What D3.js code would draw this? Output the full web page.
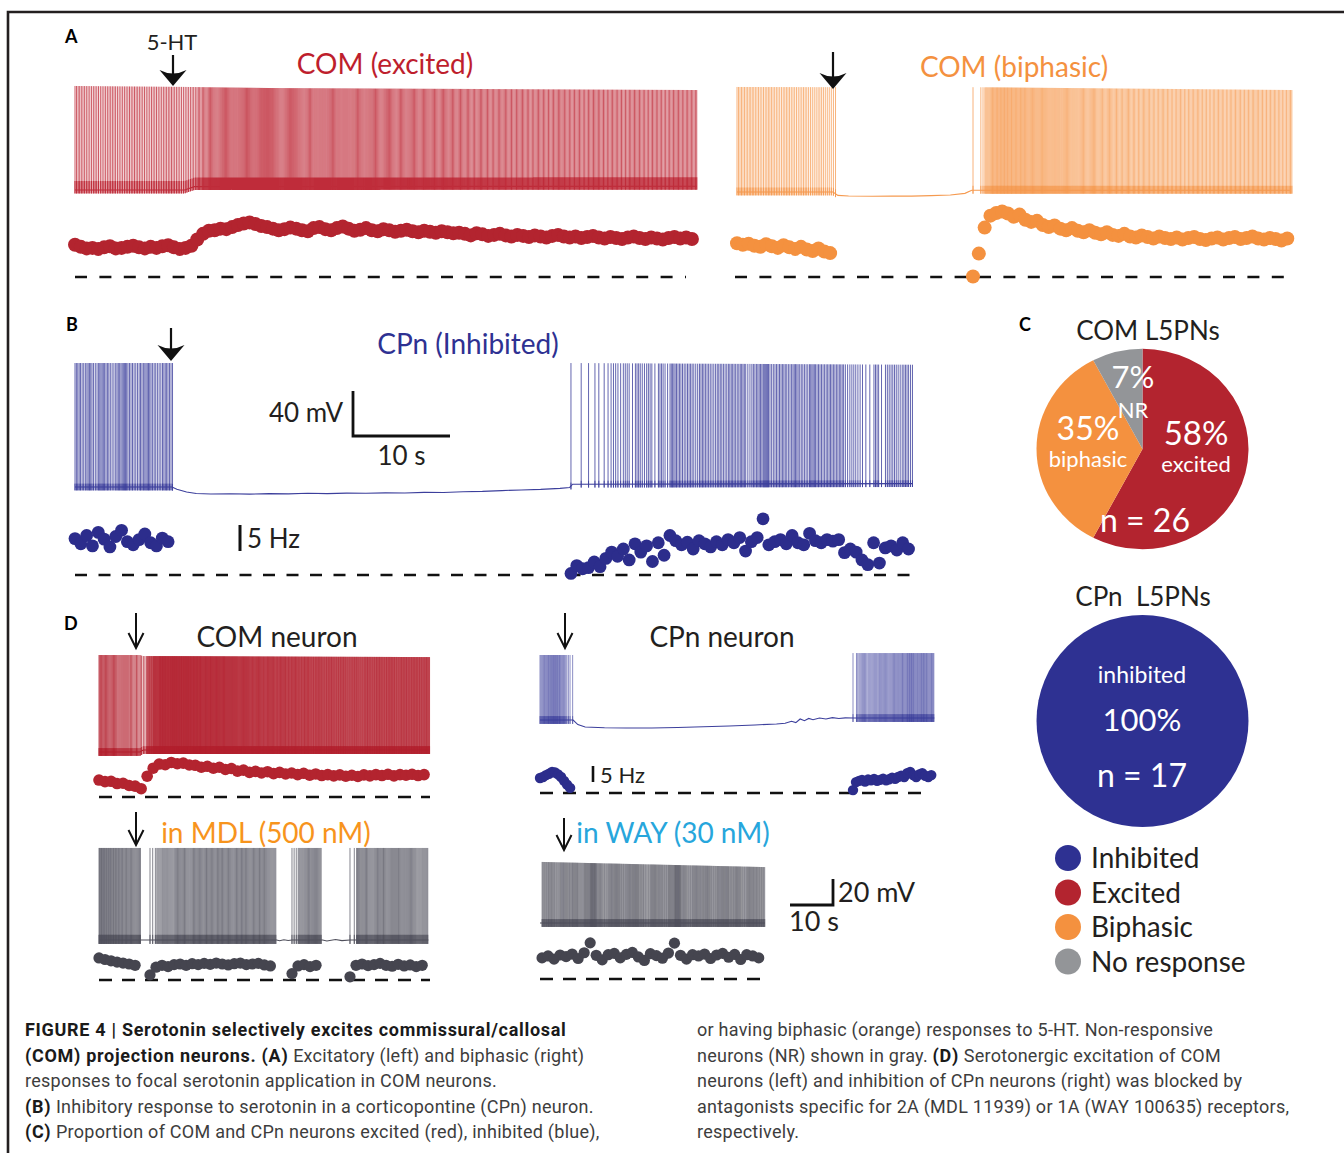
<!DOCTYPE html>
<html><head><meta charset="utf-8">
<script src="https://cdn.jsdelivr.net/npm/d3@7"></script>
<style>
body{margin:0;background:#fff}
svg{display:block}
text{font-family:Lato,'Open Sans',sans-serif;white-space:pre}
.cap{font-family:Roboto,'Liberation Sans',sans-serif;font-size:18px}
</style>
</head><body>
<svg id="fig" width="1344" height="1153"></svg>
<script>
// ================= DATA =================
// Panel C pie charts
const comPieCategories = ["Excited", "Biphasic", "No response"];
const comPieCounts = [15, 9, 2];
const comPieLabels = [["58%", "excited"], ["35%", "biphasic"], ["7%", "NR"]];
const cpnPieCategories = ["Inhibited"];
const cpnPieCounts = [17];
const legendCategories = ["Inhibited", "Excited", "Biphasic", "No response"];

// Firing rate samples (Hz). Each segment: start time (s), step (s), values.
// Panel A – COM (excited), step 0.6 s
const aExcitedRate = [6.2,5.8,5.5,5.6,5.4,5.7,5.9,5.5,5.6,5.8,6.0,5.7,5.5,5.8,5.6,5.9,6.1,5.7,5.4,
  5.6,6.0,7.2,8.3,8.9,
  9.0,9.3,9.2,9.6,10.0,10.3,10.5,10.2,9.8,
  9.6,9.3,9.0,9.2,9.5,9.3,9.0,8.8,9.4,9.6,9.2,9.0,9.4,9.7,9.3,8.9,9.1,9.4,9.0,8.8,9.2,9.0,8.7,8.9,9.1,8.8,8.6,8.9,8.7,8.5,8.8,8.6,8.4,
  8.5,8.3,8.0,8.4,8.2,7.9,8.1,8.3,8.0,7.8,8.1,7.9,7.7,8.0,7.8,7.6,7.9,8.1,7.8,7.6,7.8,7.5,7.7,7.9,7.6,7.4,7.7,7.5,7.3,7.6,7.8,7.5,7.3,7.6,7.4,7.2,7.5,7.7,7.4,7.6,7.3];
const aExcitedBaseline = [[0,-70],[11.3,-70],[12.3,-67],[64.1,-66.7]];
const aExcitedPeak = [[0,22.3],[11,21.5],[20,20.5],[64.1,18.7]];

// Panel A – COM (biphasic), step 0.6 s
const aBiphasicRatePre = [6.5,6.2,6.4,6.0,5.8,6.3,5.9,5.6,6.1,5.7,5.4,5.8,5.3,5.0,5.5,4.9,4.6];
const aBiphasicRatePost = [0.1,4.5,9.5,11.8,12.3,12.6,12.2,11.6,12.0,11.0,10.6,10.8,10.0,9.6,9.9,9.3,9.0,9.4,8.9,8.6,9.0,8.5,8.2,8.6,8.1,7.9,8.3,7.8,7.6,8.0,7.7,7.4,7.8,7.5,7.3,7.6,7.2,7.5,7.7,7.3,7.1,7.4,7.6,7.2,7.5,7.7,7.3,7.5,7.8,7.4,7.2,7.5,7.3,7.0,7.4];
const aBiphasicStarts = [0, 24.33];
const aBiphasicBaseline = [[0,-70],[9.9,-70],[10.4,-73],[11.5,-73.6],[14,-73.8],[16,-73.5],[18,-73.7],[20,-73.2],[22,-72.6],[23.5,-71.2],[24.2,-68.5],[57,-68.5]];
const aBiphasicPeak = [[0,23.2],[10,23],[24.3,23],[57,20.5]];

// Panel B – CPn (inhibited), step 0.6 s
const bCpnRatePre = [7.0,6.0,7.6,5.6,8.2,6.9,5.4,7.4,8.6,6.4,5.8,6.8,7.9,6.2,5.6,7.1,6.4];
const bCpnRatePost = [0.3,1.8,1.2,1.4,2.5,1.6,3.2,4.4,3.6,5.0,2.9,6.0,4.4,5.6,2.6,6.2,3.8,7.6,6.6,5.8,6.3,5.0,6.6,6.0,5.4,6.4,5.8,6.8,6.2,7.2,4.6,6.4,7.2,10.8,5.8,6.4,6.8,6.0,7.6,6.2,5.8,8.0,6.6,6.2,6.8,6.5,6.8,4.3,5.0,4.4,2.9,2.0,6.2,2.3,5.2,5.6,4.8,6.2,5.0];
const bCpnStarts = [0, 51.13];
const bCpnBaseline = [[0,-70],[10,-70],[10.5,-72],[11.5,-74.5],[12.5,-75.8],[14,-76.2],[16,-76],[18,-76.3],[20,-75.9],[22,-76.1],[24,-75.6],[26,-75.9],[28,-75.4],[30,-75.6],[32,-75.2],[34,-75.3],[36,-74.8],[38,-74.9],[40,-74.2],[42,-73.9],[44,-73.2],[46,-72.6],[48,-72.1],[50,-71.2],[51,-70.4],[51.3,-67.5],[86.3,-67]];
const bCpnPeak = [[0,40],[10,40],[51,40],[86.3,38.5]];

// Panel D – COM neuron, step 1.4 s
const dComRate = [5.3,4.8,4.9,4.2,4.3,3.6,3.4,2.6,6.5,9.0,10.3,10.1,10.8,10.4,10.6,10.0,9.9,9.3,9.6,9.0,9.3,8.6,8.9,8.1,8.4,7.7,8.0,7.5,7.9,7.3,7.7,7.2,7.5,7.0,7.4,6.8,7.2,6.7,7.0,6.6,6.9,6.5,6.8,6.4,6.9,6.6,7.0,6.7,7.1,6.6,7.0,6.8,7.1,6.7,7.0];
const dComBaseline = [[0,-70],[9.5,-70],[10.3,-68.5],[76.7,-68.5]];
const dComPeak = [[0,4.6],[9.5,4.6],[10.3,3.8],[76.7,3]];

// Panel D – COM in MDL (500 nM), step 1.4 s
const dMdlRate1 = [6.9,6.4,6.0,5.6,5.3,5.0,4.6];
const dMdlRate2 = [1.6,4.0,4.6,4.2,4.8,5.0,4.6,5.1,4.8,5.2,4.9,5.3,5.0,4.7,5.1,5.3,4.8,5.0,5.2,4.7,4.4];
const dMdlRate3 = [2.0,4.4,4.8,4.2,4.6];
const dMdlRate4 = [1.0,4.6,5.0,4.5,4.8,5.2,4.6,4.3,4.9,4.4,4.7,4.2,4.6];
const dMdlStarts = [0, 11.86, 44.88, 58.37];
const dMdlBaseline = [[0,-70],[41.3,-70],[42,-70.6],[43,-69.8],[44,-70.4],[44.9,-70],[52,-70],[53,-70.8],[55,-69.6],[56.5,-70.5],[58.4,-70],[76.6,-70]];
const dMdlPeak = [[0,0.8],[76.6,0.8]];

// Panel D – CPn neuron, step 0.7 s
const dCpnRatePre = [4.7,5.0,5.6,6.0,6.6,6.4,5.8,5.0,3.8,2.6,1.6];
const dCpnRatePost = [0.9,3.4,3.8,4.1,3.6,4.2,4.0,4.4,3.8,4.1,4.5,4.0,4.3,4.8,4.4,5.0,5.4,5.0,6.2,6.6,5.6,5.0,5.8,6.2,5.4,5.0,5.6];
const dCpnStarts = [0, 72.79];
const dCpnBaseline = [[0,-70],[7.7,-70],[8.8,-73.5],[10.5,-75.4],[15,-76],[20,-76.2],[26,-76.2],[32,-75.8],[38,-75.2],[44,-74.6],[50,-73.8],[55,-73.1],[57,-72.5],[58.5,-71],[59.5,-72],[60.5,-69.2],[61.5,-70.5],[62.5,-68.8],[63.5,-69.8],[65,-68.5],[66.5,-69.2],[68,-68.2],[69.5,-68.9],[71,-68.4],[72.8,-68.5],[91.7,-68.5]];
const dCpnPeak = [[0,-20],[7.7,-20],[72.8,-18.5],[91.7,-18.5]];

// Panel D – CPn in WAY (30 nM), step 1.4 s
const dWayRate = [6.6,7.2,6.2,7.5,7.0,7.8,6.4,8.2,11.3,7.4,6.0,7.6,8.0,6.6,7.7,8.3,6.9,5.8,7.9,7.3,6.5,8.1,11.2,7.4,6.2,7.6,7.2,7.8,6.4,7.5,8.0,6.8,7.7,6.1,7.6,7.2,6.6];
const dWayBaseline = [[0,-70],[52.3,-70]];
const dWayPeak = [[0,-23],[52.3,-27]];

// Scale bars
const scaleBarB = {sec: 10, mV: 40, hz: 5};
const scaleBarD = {sec: 10, mV: 20, hz: 5};

// Caption
const captionLeft = [
  [["FIGURE 4 | Serotonin selectively excites commissural/callosal", 1]],
  [["(COM) projection neurons. (A)", 1], [" Excitatory (left) and biphasic (right)", 0]],
  [["responses to focal serotonin application in COM neurons.", 0]],
  [["(B)", 1], [" Inhibitory response to serotonin in a corticopontine (CPn) neuron.", 0]],
  [["(C)", 1], [" Proportion of COM and CPn neurons excited (red), inhibited (blue),", 0]]
];
const captionRight = [
  [["or having biphasic (orange) responses to 5-HT. Non-responsive", 0]],
  [["neurons (NR) shown in gray. ", 0], ["(D)", 1], [" Serotonergic excitation of COM", 0]],
  [["neurons (left) and inhibition of CPn neurons (right) was blocked by", 0]],
  [["antagonists specific for 2A (MDL 11939) or 1A (WAY 100635) receptors,", 0]],
  [["respectively.", 0]]
];

// ================= COLOURS =================
const C = {
  red: "#b3242f", redSpike: "#bf2c3a", orange: "#f4913f", orangeSpike: "#f59a50",
  blue: "#2e3192", blueSpike: "#3c3f9c", gray: "#939598", dark: "#45454f", darkSpike: "#50505c",
  ink: "#231f20", cyan: "#27a6dc", mdl: "#f7941d"
};

// ================= LAYOUT / TRACES =================
const traces = [
  {x0:75, pps:9.7, end:64.1, yRest:190, gain:1.127, zero:277, pph:5.2, dashX1:686, dash:"12,12.4", r:7, band:8, bw:1.3,
   spike:C.redSpike, sw:0.8, dot:C.red, segs:[[0,0.6,aExcitedRate]], base:aExcitedBaseline, peak:aExcitedPeak},
  {x0:737, pps:9.7, end:57, yRest:192, gain:1.127, zero:277, pph:5.2, dashX1:1292, dash:"12,12.4", r:7, band:4, bw:1.2,
   spike:C.orangeSpike, sw:0.75, dot:C.orange, segs:[[aBiphasicStarts[0],0.6,aBiphasicRatePre],[aBiphasicStarts[1],0.6,aBiphasicRatePost]], base:aBiphasicBaseline, peak:aBiphasicPeak, dashX0:735},
  {x0:75, pps:9.7, end:86.3, yRest:487, gain:1.127, zero:575, pph:5.2, dashX1:910, dash:"12,11.5", r:6.4, band:3, bw:1.1,
   spike:C.blueSpike, sw:0.8, dot:"#2c2d8c", segs:[[bCpnStarts[0],0.6,bCpnRatePre],[bCpnStarts[1],0.6,bCpnRatePost]], base:bCpnBaseline, peak:bCpnPeak},
  {x0:99, pps:4.3, end:76.7, yRest:752, gain:1.3, zero:797, pph:3.2, dashX1:430, dash:"13,10", r:5.8, band:3, bw:1.1,
   spike:"#b3202d", sw:0.8, dot:C.red, segs:[[0,1.4,dComRate]], base:dComBaseline, peak:dComPeak},
  {x0:99, pps:4.3, end:76.6, yRest:940, gain:1.3, zero:980, pph:3.2, dashX1:430, dash:"13,10", r:5.6, band:4, bw:1.25,
   spike:C.darkSpike, sw:0.7, dot:C.dark, segs:[[dMdlStarts[0],1.4,dMdlRate1],[dMdlStarts[1],1.4,dMdlRate2],[dMdlStarts[2],1.4,dMdlRate3],[dMdlStarts[3],1.4,dMdlRate4]], base:dMdlBaseline, peak:dMdlPeak},
  {x0:540, pps:4.3, end:91.7, yRest:720, gain:1.3, zero:793, pph:3.2, dashX1:928, dash:"13,10", r:5.2, band:3, bw:1.1,
   spike:C.blueSpike, sw:0.6, dot:"#2c2d8c", segs:[[dCpnStarts[0],0.7,dCpnRatePre],[dCpnStarts[1],0.7,dCpnRatePost]], base:dCpnBaseline, peak:dCpnPeak},
  {x0:540, pps:4.3, end:52.3, yRest:923, gain:1.3, zero:979, pph:3.2, dashX1:766, dash:"13,10", r:5.6, band:3, bw:1.2,
   spike:C.darkSpike, sw:0.55, dot:C.dark, segs:[[0.47,1.4,dWayRate]], base:dWayBaseline, peak:dWayPeak}
];

const svg = d3.select("#fig");

// frame
svg.append("path").attr("d","M8,1153V12H1344").attr("fill","none").attr("stroke",C.ink).attr("stroke-width",2.6);

function spikeTimes(segs){
  const out = [];
  segs.forEach(([t0, dt, v]) => {
    out.push(t0);
    let need = 1;
    v.forEach((hz, i) => {
      let t = t0 + i*dt, rem = dt;
      while (hz > 0 && hz*rem >= need) { const s = need/hz; t += s; rem -= s; out.push(t); need = 1; }
      need -= hz*rem;
    });
  });
  return out;
}

traces.forEach(tr => {
  tr.x = d3.scaleLinear().domain([0, tr.end]).range([tr.x0, tr.x0 + tr.end*tr.pps]);
  tr.y = d3.scaleLinear().domain([-70, 40]).range([tr.yRest, tr.yRest - 110*tr.gain]);
  tr.rate = d3.scaleLinear().domain([0, 10]).range([tr.zero, tr.zero - 10*tr.pph]);
  const bs = d3.scaleLinear().domain(tr.base.map(d=>d[0])).range(tr.base.map(d=>d[1]));
  const ps = d3.scaleLinear().domain(tr.peak.map(d=>d[0])).range(tr.peak.map(d=>d[1]));
  const g = svg.append("g");
  // membrane baseline
  g.append("path").attr("d", d3.line().x(d=>tr.x(d[0])).y(d=>tr.y(d[1]))(tr.base))
    .attr("fill","none").attr("stroke",tr.spike).attr("stroke-width",1.1);
  // spikes
  const sp = spikeTimes(tr.segs);
  const d = sp.map(t => `M${tr.x(t).toFixed(2)},${tr.y(bs(t)-3).toFixed(2)}V${tr.y(ps(t)).toFixed(2)}`).join("");
  g.append("path").attr("d", d).attr("fill","none").attr("stroke",tr.spike).attr("stroke-width",tr.sw);
  // after-hyperpolarisation foot of each spike
  const d2 = sp.map(t => `M${tr.x(t).toFixed(2)},${tr.y(bs(t)-3).toFixed(2)}V${tr.y(bs(t)+tr.band).toFixed(2)}`).join("");
  g.append("path").attr("d", d2).attr("fill","none").attr("stroke",tr.spike).attr("stroke-width",tr.sw*tr.bw);
  // zero-rate dashed line
  g.append("line").attr("x1", tr.dashX0 || tr.x0).attr("x2", tr.dashX1)
    .attr("y1", tr.rate(0)).attr("y2", tr.rate(0))
    .attr("stroke","#111").attr("stroke-width",2.5).attr("stroke-dasharray",tr.dash);
  // rate dots
  const pts = [];
  tr.segs.forEach(([t0, dt, v]) => v.forEach((hz,i) => pts.push([t0 + i*dt, hz])));
  g.selectAll("circle").data(pts).join("circle")
    .attr("cx", p=>tr.x(p[0])).attr("cy", p=>tr.rate(p[1])).attr("r", tr.r).attr("fill", tr.dot);
});

// ---- text helpers
function txt(x, y, s, size, fill, anchor, extra){
  const t = svg.append("text").attr("x",x).attr("y",y).attr("font-size",size)
    .attr("fill",fill||C.ink).attr("text-anchor",anchor||"start").text(s);
  if (extra) extra(t);
  return t;
}
const bold = t => t.attr("font-family","'Liberation Sans',Arial,sans-serif").attr("font-weight","bold");

// panel letters
txt(65,43,"A",18,"#000","start",bold);
txt(66,331,"B",18,"#000","start",bold);
txt(1019,331,"C",18,"#000","start",bold);
txt(64,630,"D",18,"#000","start",bold);

// arrows
function bigArrow(x, y0, y1){
  svg.append("line").attr("x1",x).attr("x2",x).attr("y1",y0).attr("y2",y1-6).attr("stroke","#111").attr("stroke-width",2.2);
  svg.append("path").attr("d",`M${x},${y1}L${x-13.5},${y1-16}Q${x},${y1-9} ${x+13.5},${y1-16}Z`).attr("fill","#111");
}
function thinArrow(x, y0, y1){
  svg.append("line").attr("x1",x).attr("x2",x).attr("y1",y0).attr("y2",y1).attr("stroke","#111").attr("stroke-width",2);
  svg.append("path").attr("d",`M${x-7.5},${y1-15}L${x},${y1}L${x+7.5},${y1-15}`).attr("fill","none").attr("stroke","#111").attr("stroke-width",2);
}
bigArrow(173, 55, 86);
bigArrow(833, 52, 89);
bigArrow(171, 328, 361);
thinArrow(136, 613, 648);
thinArrow(136, 812, 845);
thinArrow(565, 613, 648);
thinArrow(564, 818, 850);

// titles
txt(172,50,"5-HT",22,C.ink,"middle");
txt(385,74,"COM (excited)",28,"#be1e2d","middle");
txt(1014,77,"COM (biphasic)",28,C.orange,"middle");
txt(468,354,"CPn (Inhibited)",28,C.blue,"middle");
txt(277,647,"COM neuron",28,C.ink,"middle");
txt(722,647,"CPn neuron",28,C.ink,"middle");
txt(266,843,"in MDL (500 nM)",28,C.mdl,"middle");
txt(673,843,"in WAY (30 nM)",28,C.cyan,"middle");

// scale bars B (using trace B scales)
{
  const tb = traces[2];
  const len = tb.x(scaleBarB.sec) - tb.x(0);
  const h = tb.y(-70) - tb.y(-70 + scaleBarB.mV);
  svg.append("path").attr("d",`M353,${436-h}V436H${353+len}`).attr("fill","none").attr("stroke","#111").attr("stroke-width",2.8);
  txt(343,422,"40 mV",26,C.ink,"end");
  txt(353+len/2,465,"10 s",26,C.ink,"middle");
  const hz = tb.rate(0) - tb.rate(scaleBarB.hz);
  svg.append("line").attr("x1",240).attr("x2",240).attr("y1",551-hz).attr("y2",551).attr("stroke","#111").attr("stroke-width",3);
  txt(247,548,"5 Hz",26,C.ink,"start");
}
// scale bars D
{
  const td = traces[6];
  const len = td.x(scaleBarD.sec) - td.x(0);
  const h = td.y(-70) - td.y(-70 + scaleBarD.mV);
  svg.append("path").attr("d",`M${833-len},905H833V${905-h}`).attr("fill","none").attr("stroke","#111").attr("stroke-width",2.8);
  txt(838,902,"20 mV",27,C.ink,"start");
  txt(789,931,"10 s",27,C.ink,"start");
  const tc = traces[5];
  const hz = tc.rate(0) - tc.rate(scaleBarD.hz);
  svg.append("line").attr("x1",593).attr("x2",593).attr("y1",782-hz).attr("y2",782).attr("stroke","#111").attr("stroke-width",2.6);
  txt(600,783,"5 Hz",22,C.ink,"start");
}

// ---- Panel C pies
const pieColors = {"Excited":C.red, "Biphasic":C.orange, "No response":C.gray, "Inhibited":C.blue};
const pieR = 106;
const arc = d3.arc().innerRadius(0).outerRadius(pieR);
const comArcs = d3.pie().sort(null)(comPieCounts);
const gc = svg.append("g").attr("transform","translate(1142.5,449) scale(1,0.945)");
gc.selectAll("path").data(comArcs).join("path").attr("d",arc)
  .attr("fill",(d,i)=>pieColors[comPieCategories[i]]);
txt(1148,340,"COM L5PNs",26,C.ink,"middle");
// label positions: x, baseline of value, value size, baseline of word
const comLabelPos = [[1196,445,33,472],[1088,440,32,467],[1133,388,31,418]];
comPieLabels.forEach((lab,i)=>{
  const [x,y,sz,y2] = comLabelPos[i];
  txt(x,y,lab[0],sz,"#fff","middle");
  txt(x,y2,lab[1],22,"#fff","middle");
});
txt(1145,532,"n = "+d3.sum(comPieCounts),32,"#fff","middle");

const cpnArcs = d3.pie().sort(null)(cpnPieCounts);
const gp = svg.append("g").attr("transform","translate(1142.5,721)");
gp.selectAll("path").data(cpnArcs).join("path").attr("d",arc)
  .attr("fill",(d,i)=>pieColors[cpnPieCategories[i]]);
txt(1143,606,"CPn  L5PNs",26,C.ink,"middle");
txt(1142,683,"inhibited",23,"#fff","middle");
txt(1142,731,"100%",31,"#fff","middle");
txt(1142,787,"n = "+d3.sum(cpnPieCounts),32,"#fff","middle");

// legend
legendCategories.forEach((c,i)=>{
  const cy = 858 + i*34.5;
  svg.append("circle").attr("cx",1068).attr("cy",cy).attr("r",13).attr("fill",pieColors[c]);
  txt(1091,cy+10,c,28,C.ink,"start");
});

// ---- caption
function caption(lines, x){
  lines.forEach((segs,i)=>{
    const t = svg.append("text").attr("class","cap").attr("x",x).attr("y",1036+i*25.5);
    segs.forEach(([s,b])=>{
      t.append("tspan").text(s).attr("font-weight",b?"700":"400")
        .attr("letter-spacing",b?"0.7px":"0.25px").attr("fill",b?"#1a1a1a":"#3d3d3d");
    });
  });
}
caption(captionLeft, 25);
caption(captionRight, 697);
</script>
</body></html>
